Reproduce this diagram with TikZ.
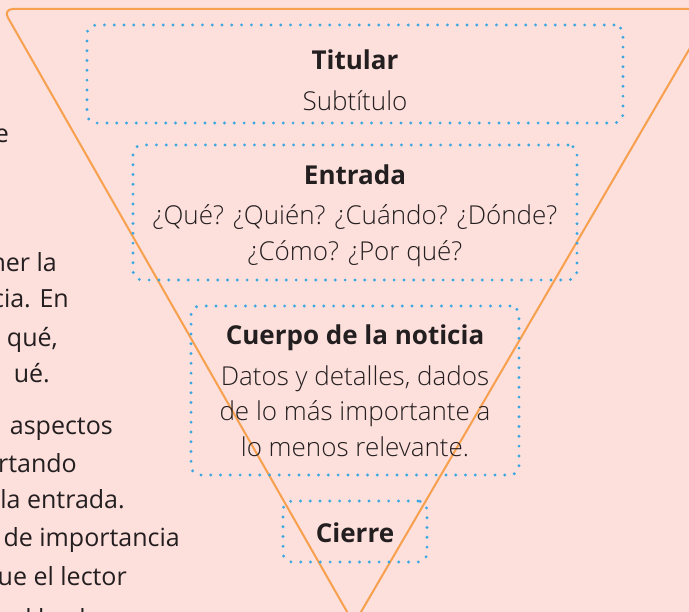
\documentclass[tikz,border=0pt]{standalone}
\usepackage{fontspec}
\setmainfont{Open Sans}
\newfontfamily\lightfont{Open Sans Light}
\definecolor{fondo}{HTML}{FDDFDB}
\definecolor{naranja}{HTML}{F7A04E}
\definecolor{azul}{HTML}{3BA7E1}
\definecolor{texto}{HTML}{231F20}
\begin{document}
\begin{tikzpicture}[x=1pt, y=-1pt,
    caja/.style={draw=azul, line width=3.2pt, dash pattern=on 0pt off 9.8pt,
      line cap=round, rounded corners=9pt, inner sep=0pt},
    bloque/.style={anchor=base, align=center, text=texto,
      font=\lightfont\fontsize{26}{36}\selectfont},
    lado/.style={anchor=base east, inner sep=0pt, text=texto,
      font=\fontsize{25}{25}\selectfont}]
    % Page and background
    \useasboundingbox (0,0) rectangle (689,612);
    \fill[fondo] (0,0) rectangle (689,612);
    \clip (0,0) rectangle (689,612);

    % Inverted triangle
    \draw[naranja, line width=2pt, rounded corners=10pt]
        (720,9) -- (3,9) -- (354,624) -- (725,-12);

    % Dotted boxes
    \node[caja, minimum width=536pt, minimum height=98pt] (cajaTitular) at (355,74) {};
    \node[caja, minimum width=444pt, minimum height=135pt] (cajaEntrada) at (355,212.5) {};
    \node[caja, minimum width=328pt, minimum height=169pt] (cajaCuerpo) at (355,390.5) {};
    \node[caja, minimum width=144pt, minimum height=61pt] (cajaCierre) at (355,531.5) {};

    % Texts of the pyramid (placed at the baseline of their last line)
    \node[bloque] (titular) at (355,111)
        {{\normalfont\bfseries Titular}\\[5pt]Subtítulo};
    \node[bloque] (entrada) at (355,261)
        {{\normalfont\bfseries Entrada}\\[4pt]¿Qué? ¿Quién? ¿Cuándo? ¿Dónde?\\¿Cómo? ¿Por qué?};
    \node[bloque] (cuerpo) at (355,457)
        {{\normalfont\bfseries Cuerpo de la noticia}\\[4pt]Datos y detalles, dados\\de lo más importante a\\lo menos relevante.};
    \node[bloque] (cierre) at (355,543) {{\normalfont\bfseries Cierre}};

    % Cut text on the left
    \node[lado] (l1) at (9,143) {e};
    \node[lado] (l2) at (57,272) {ner la};
    \node[lado] (l3) at (69,308) {cia. En};
    \node[lado] (l4) at (58,347) {qué,};
    \node[lado] (l5) at (50,383) {ué.};
    \node[lado] (l6) at (113,435) {aspectos};
    \node[lado] (l7) at (77,473) {rtando};
    \node[lado] (l8) at (125,509) {la entrada.};
    \node[lado] (l9) at (180,547) {de importancia};
    \node[lado] (l10) at (127,585) {ue el lector};
    \node[lado] (l11) at (110,627) {l hecho};
\end{tikzpicture}
\end{document}
